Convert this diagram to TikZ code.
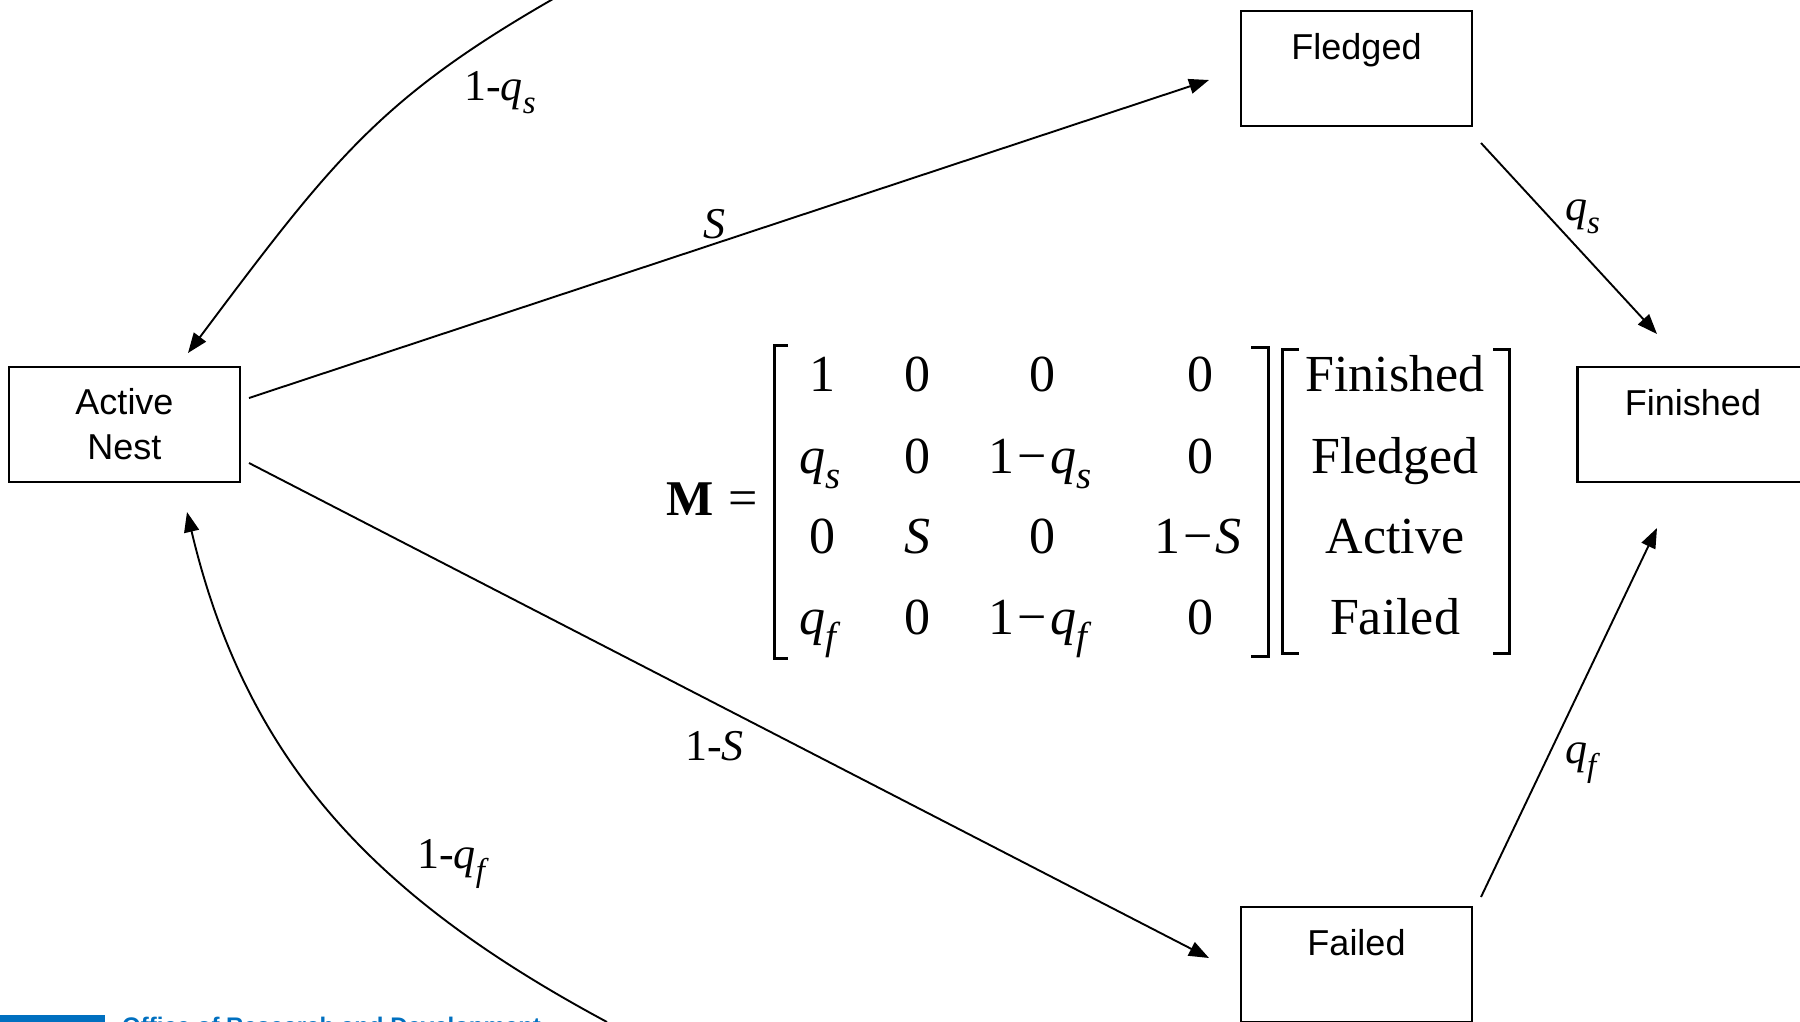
\documentclass[tikz,border=0pt]{standalone}
\usepackage{fontspec}
\setmainfont{Liberation Serif}
\newfontfamily\arialf{Liberation Sans}
\usetikzlibrary{arrows.meta}
\definecolor{epablue}{RGB}{0,112,192}
\newcommand\lsub[1]{\raisebox{-0.3em}{\scalebox{0.75}{\textit{#1}}}}
\newcommand\mminus{\kern0.06em\char"2212\kern0.06em}
\tikzset{
  box/.style={draw, line width=2.2pt, minimum width=231pt, minimum height=115pt,
    inner sep=0pt, align=center, font=\arialf\fontsize{36}{45}\selectfont},
  lbl/.style={font=\fontsize{44}{50}\selectfont, inner sep=0pt, anchor=base west},
  ent/.style={font=\fontsize{52}{60}\selectfont, inner sep=0pt, anchor=base},
  arr/.style={line width=1.9pt, -{Triangle[length=20pt,width=15pt]}},
  brk/.style={line width=3pt, miter limit=10}
}
\begin{document}
\begin{tikzpicture}[x=1pt,y=-1pt]
\useasboundingbox (0,0) rectangle (1800,1021);
\clip (0,0) rectangle (1800,1021);
\fill[white] (0,0) rectangle (1800,1021);

% boxes
\node[box] (an) at (124.5,424.5) {Active\\Nest};
\node[box] (fl) at (1356.5,68.5) {Fledged\\\mbox{}};
\node[box] (fi) at (1693,424.5) {Finished\\\mbox{}};
\node[box] (fa) at (1356.5,964.5) {Failed\\\mbox{}};

% connector end points
\coordinate (anF) at (249,398);
\coordinate (flIn) at (1209,80);
\coordinate (anA) at (249,463);
\coordinate (faIn) at (1209,958);
\coordinate (flOut) at (1481,143);
\coordinate (fiInT) at (1657,334);
\coordinate (faOut) at (1481,897);
\coordinate (fiInB) at (1657,528);
\coordinate (qsTop) at (553,-1);
\coordinate (anInT) at (188,353);
\coordinate (qfBot) at (607,1022);
\coordinate (anInB) at (187,512);

\draw[arr] (anF) -- (flIn);
\draw[arr] (anA) -- (faIn);
\draw[arr] (flOut) -- (fiInT);
\draw[arr] (faOut) -- (fiInB);
\draw[arr] (qsTop) .. controls (379,99) and (332,161) .. (anInT);
\draw[arr] (qfBot) .. controls (378,899) and (247,765) .. (anInB);

% labels
\node[lbl] (lqs) at (464,100) {1-\textit{q}\lsub{s}};
\node[lbl] (lS) at (703,238) {\textit{S}};
\node[lbl] (l1S) at (685,760) {1-\textit{S}};
\node[lbl] (lqf) at (417,868) {1-\textit{q}\lsub{f}};
\node[lbl] (rqs) at (1565,220) {\textit{q}\lsub{s}};
\node[lbl] (rqf) at (1565,763) {\textit{q}\lsub{f}};

% matrix equation
\node[font=\fontsize{50}{54}\selectfont\bfseries, inner sep=0pt, anchor=base west] (Mb) at (666,515) {M};
\node[font=\fontsize{52}{60}\selectfont, inner sep=0pt, anchor=base west] (eq) at (728,515) {=};

\node[ent] (m11) at (822,391) {1};
\node[ent] (m12) at (917,391) {0};
\node[ent] (m13) at (1042,391) {0};
\node[ent] (m14) at (1200,391) {0};
\node[ent] (m21) at (820,473) {\textit{q}\lsub{s}};
\node[ent] (m22) at (917,473) {0};
\node[ent] (m23) at (1040,473) {1\mminus\textit{q}\lsub{s}};
\node[ent] (m24) at (1200,473) {0};
\node[ent] (m31) at (822,553) {0};
\node[ent] (m32) at (917,553) {\textit{S}};
\node[ent] (m33) at (1042,553) {0};
\node[ent] (m34) at (1198,553) {1\mminus\textit{S}};
\node[ent] (m41) at (820,634) {\textit{q}\lsub{f}};
\node[ent] (m42) at (917,634) {0};
\node[ent] (m43) at (1040,634) {1\mminus\textit{q}\lsub{f}};
\node[ent] (m44) at (1200,634) {0};

\node[ent] (v1) at (1395,391) {Finished};
\node[ent] (v2) at (1395,473) {Fledged};
\node[ent] (v3) at (1395,553) {Active};
\node[ent] (v4) at (1395,634) {Failed};

\draw[brk] (788,345) -- (774,345) -- (774,658) -- (788,658);
\draw[brk] (1251,347) -- (1268,347) -- (1268,656) -- (1251,656);
\draw[brk] (1299,349) -- (1282,349) -- (1282,653) -- (1299,653);
\draw[brk] (1493,349) -- (1509,349) -- (1509,653) -- (1493,653);

% footer (cut off at the lower edge, as in the source)
\fill[epablue] (0,1015) rectangle (105,1022);
\node[anchor=base west, font=\arialf\bfseries\fontsize{24}{28}\selectfont, text=epablue, inner sep=0pt] (ord) at (122,1034) {Office of Research and Development};
\end{tikzpicture}
\end{document}
